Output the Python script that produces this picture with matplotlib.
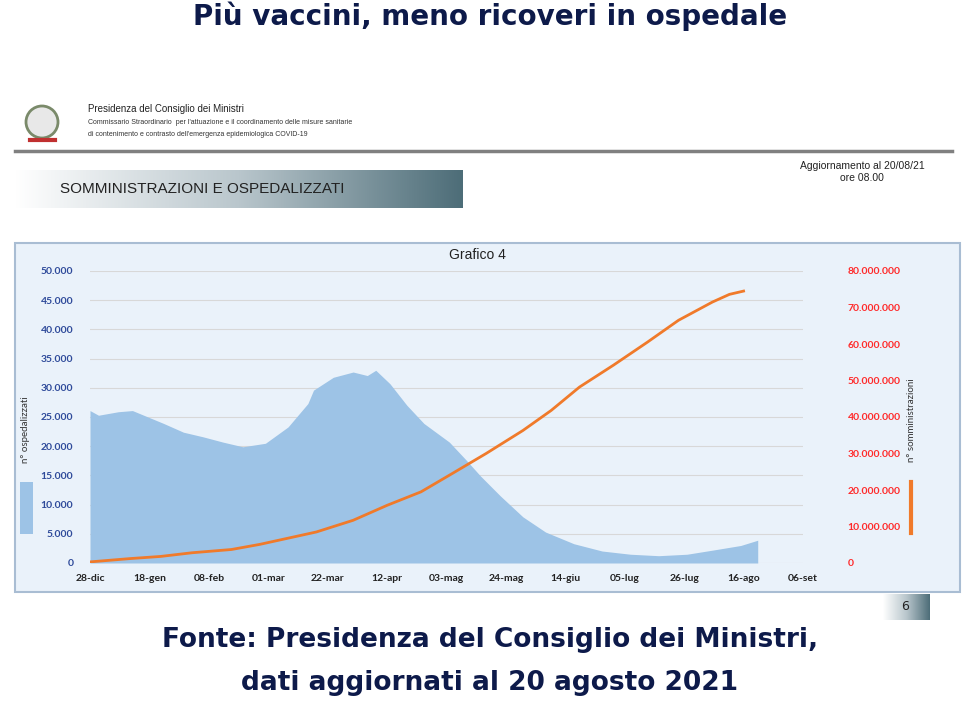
import numpy as np
import matplotlib
matplotlib.use("Agg")
import matplotlib.pyplot as plt
from matplotlib.patches import Rectangle
from matplotlib.colors import LinearSegmentedColormap

W, H = 980, 719
x_labels = ["28-dic", "18-gen", "08-feb", "01-mar", "22-mar", "12-apr", "03-mag",
            "24-mag", "14-giu", "05-lug", "26-lug", "16-ago", "06-set"]
# day offset from 28-dic
hosp_days = [0, 3, 10, 15, 19, 26, 33, 40, 47, 54, 62, 70, 77, 79, 86, 93, 98, 101,
             106, 112, 118, 127, 133, 138, 145, 153, 161, 171, 181, 191, 201, 211,
             220, 230, 236]
hosp_vals = [26100, 25300, 25900, 26100, 25300, 23900, 22400, 21600, 20700, 19900,
             20500, 23300, 27300, 29600, 31800, 32700, 32100, 33000, 30700, 27000,
             23900, 20700, 17600, 14900, 11500, 7900, 5300, 3300, 2050, 1500,
             1250, 1500, 2200, 3000, 3900]
vacc_days = [0, 14, 25, 36, 50, 60, 70, 80, 93, 105, 117, 128, 140, 153, 163, 173,
             185, 197, 208, 220, 226, 231]
vacc_vals = [0.3, 1.2, 1.8, 2.8, 3.7, 5.1, 6.8, 8.5, 11.7, 15.8, 19.5, 24.5, 30.0,
             36.3, 41.8, 48.2, 54.2, 60.5, 66.5, 71.5, 73.6, 74.5]
vacc_vals = [v * 1e6 for v in vacc_vals]
left_ticks = list(range(0, 50001, 5000))
right_ticks = list(range(0, 80000001, 10000000))

def fmt(v):
    return f"{v:,}".replace(",", ".")

fig = plt.figure(figsize=(W / 100, H / 100), dpi=100)
fig.patch.set_facecolor("white")

def fx(x): return x / W
def fy(y): return 1 - y / H

navy = "#0d1a4a"
fig.text(fx(490), fy(16), "Più vaccini, meno ricoveri in ospedale", ha="center", va="center",
         fontsize=20, fontweight="bold", color=navy, family="DejaVu Sans")
fig.text(fx(490), fy(640), "Fonte: Presidenza del Consiglio dei Ministri,", ha="center",
         va="center", fontsize=19, fontweight="bold", color=navy, family="DejaVu Sans")
fig.text(fx(490), fy(683), "dati aggiornati al 20 agosto 2021", ha="center",
         va="center", fontsize=19, fontweight="bold", color=navy, family="DejaVu Sans")

bg = fig.add_axes([0, 0, 1, 1], zorder=-5)
bg.axis("off")
bg.add_patch(plt.Circle((42, 122), 16, facecolor="#e8e8e8", edgecolor="#7a8a6a", lw=2))
bg.plot([30, 55], [140, 140], color="#c03030", lw=3)
fig.text(fx(88), fy(109), "Presidenza del Consiglio dei Ministri", fontsize=7, va="center",
         family="Liberation Sans", color="#222")
fig.text(fx(88), fy(123), "Commissario Straordinario  per l'attuazione e il coordinamento delle misure sanitarie",
         fontsize=5, va="center", family="Liberation Sans", color="#333")
fig.text(fx(88), fy(134), "di contenimento e contrasto dell'emergenza epidemiologica COVID-19",
         fontsize=5, va="center", family="Liberation Sans", color="#333")
bg.plot([15, 952], [151, 151], color="#808080", lw=2.5)
grad = np.linspace(0, 1, 256).reshape(1, -1)
cm = LinearSegmentedColormap.from_list("g", ["#ffffff", "#b9c6cc", "#4d6d78"])
bg.imshow(grad, cmap=cm, extent=[15, 462, 208, 170], aspect="auto", zorder=1)
fig.text(fx(60), fy(189), "SOMMINISTRAZIONI E OSPEDALIZZATI", fontsize=11, va="center",
         family="Liberation Sans", color="#222")
fig.text(fx(862), fy(166), "Aggiornamento al 20/08/21", fontsize=7.5, ha="center", va="center",
         family="Liberation Sans", color="#222")
fig.text(fx(862), fy(178), "ore 08.00", fontsize=7.5, ha="center", va="center",
         family="Liberation Sans", color="#222")
bg.imshow(grad, cmap=cm, extent=[883, 930, 620, 594], aspect="auto", zorder=1)
fig.text(fx(905), fy(607), "6", fontsize=9, ha="center", va="center", color="#222")
bg.add_patch(Rectangle((15, 243), 945, 349, facecolor="#eaf2fa", edgecolor="#a9bdd3", lw=1.5, zorder=0))
bg.set_xlim(0, W); bg.set_ylim(H, 0)
fig.text(fx(477), fy(255), "Grafico 4", fontsize=10, ha="center", va="center",
         family="Liberation Sans", color="#222")
fig.text(fx(26), fy(430), "n° ospedalizzati", rotation=90, fontsize=7, ha="center", va="center",
         family="Lato", color="#333")
bg.add_patch(Rectangle((20, 482), 13, 52, facecolor="#9dc3e6", zorder=1))
fig.text(fx(911), fy(420), "n° somministrazioni", rotation=90, fontsize=7, ha="center", va="center",
         family="Lato", color="#333")
bg.plot([911, 911], [482, 533], color="#f07a2a", lw=3)

ax = fig.add_axes([fx(90), fy(563), fx(803 - 90), (563 - 271) / H])
ax.patch.set_alpha(0)
ax.fill_between(hosp_days, hosp_vals, 0, color="#9dc3e6", lw=0)
ax.set_xlim(0, 252); ax.set_ylim(0, 50000)
ax.set_yticks(left_ticks)
ax.set_yticklabels([fmt(v) for v in left_ticks], color="#2e4a9a", fontsize=7.5,
                   fontweight="bold", family="Lato")
ax.set_xticks(range(0, 253, 21))
ax.set_xticklabels(x_labels, fontsize=7.5, fontweight="bold", family="Lato", color="#222")
ax.grid(axis="y", color="#d8d8d8", lw=0.8)
ax.set_axisbelow(True)
for s in ax.spines.values(): s.set_visible(False)
ax.tick_params(length=0, pad=8)
ax.tick_params(axis="y", pad=12)

ax2 = ax.twinx()
ax2.plot(vacc_days, vacc_vals, color="#f07a2a", lw=2)
ax2.set_ylim(0, 80e6)
ax2.set_yticks(right_ticks)
ax2.set_yticklabels([fmt(v) for v in right_ticks], color="#ff2a2a", fontsize=7.5,
                    fontweight="bold", family="Lato")
for s in ax2.spines.values(): s.set_visible(False)
ax2.tick_params(length=0, pad=32)

fig.savefig("out.png", dpi=100)
